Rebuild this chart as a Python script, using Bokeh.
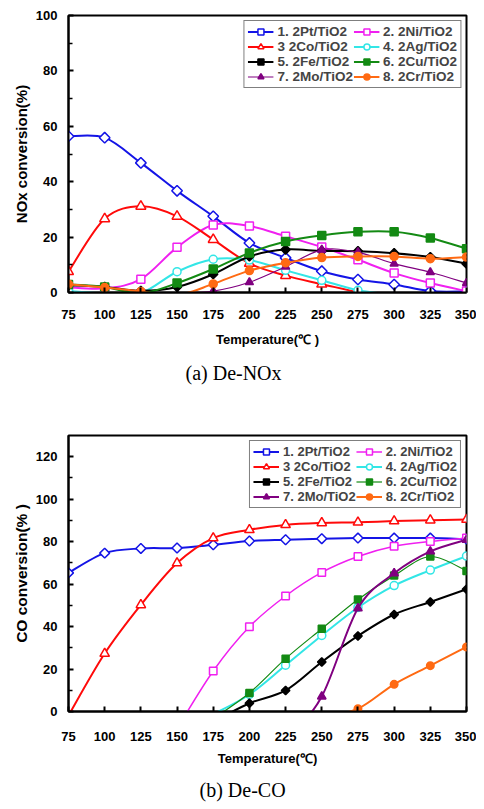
import math
from bokeh.plotting import figure
from bokeh.models import (Range1d, FixedTicker, Legend, LegendItem, Title,
                          ColumnDataSource)
from bokeh.layouts import column
from bokeh.embed import file_html
from bokeh.resources import INLINE

# ---------------- data ----------------
temps = [75, 100, 125, 150, 175, 200, 225, 250, 275, 300, 325, 350]
x_ticks = [75, 100, 125, 150, 175, 200, 225, 250, 275, 300, 325, 350]

labels = ["1. 2Pt/TiO2", "2. 2Ni/TiO2", "3 2Co/TiO2", "4. 2Ag/TiO2",
          "5. 2Fe/TiO2", "6. 2Cu/TiO2", "7. 2Mo/TiO2", "8. 2Cr/TiO2"]

# (a) De-NOx : NOx conversion (%)
nox_pt = [56.4, 55.9, 46.8, 36.7, 27.5, 17.9, 12.5, 7.7, 4.7, 2.9, 0.5, 0.4]
nox_ni = [1.9, 1.5, 4.8, 16.3, 24.4, 24.0, 20.3, 16.4, 11.8, 7.0, 3.4, 0.5]
nox_co = [7.5, 26.6, 31.1, 27.5, 19.1, 10.5, 6.1, 3.0, 0.0, -4.0]
nox_ag = [0.5, -0.3, -0.2, 7.5, 12.0, 11.7, 8.0, 4.4, 0.8, -1.0, -4.0]
nox_fe = [2.6, 2.0, 0.6, 2.0, 6.6, 13.0, 15.5, 15.0, 14.9, 14.2, 12.8, 10.4]
nox_cu = [2.9, 2.0, -0.3, 3.4, 8.5, 14.3, 18.4, 20.6, 21.9, 21.9, 19.7, 15.8]
nox_mo = [-0.5, -0.5, -0.3, -0.2, 0.5, 3.7, 9.3, 15.4, 14.5, 10.4, 7.3, 3.4]
nox_cr = [3.0, 1.8, 0.4, -1.0, 3.1, 7.9, 10.7, 12.6, 13.0, 13.0, 12.2, 12.8]

# (b) De-CO : CO conversion (%)
co_pt_t = [75, 100, 125, 150, 175, 200, 225, 250, 275, 300, 325, 350]
co_pt = [65.3, 74.6, 76.8, 77.0, 78.5, 80.3, 80.9, 81.4, 81.7, 81.7, 81.7, 81.2]
co_co_t = [75, 100, 125, 150, 175, 200, 225, 250, 275, 300, 325, 350]
co_co = [-1.9, 27.3, 50.2, 69.9, 81.7, 85.6, 87.9, 88.8, 89.1, 89.7, 90.1, 90.4]
co_ni_t = [150, 175, 200, 225, 250, 275, 300, 325, 350]
co_ni = [-8.0, 19.1, 39.9, 54.4, 65.5, 73.0, 77.8, 80.1, 81.7]
co_ag_t = [175, 200, 225, 250, 275, 300, 325, 350]
co_ag = [-1.3, 8.0, 21.8, 35.8, 49.0, 59.3, 66.6, 73.2]
co_fe_t = [175, 200, 225, 250, 275, 300, 325, 350]
co_fe = [-4.9, 3.9, 9.9, 23.3, 35.6, 45.7, 51.6, 57.6]
co_cu_t = [175, 200, 225, 250, 275, 300, 325, 350]
co_cu = [-3.4, 8.7, 24.9, 39.0, 52.8, 64.0, 73.0, 66.2]
co_mo_t = [225, 250, 275, 300, 325, 350]
co_mo = [-15.0, 7.1, 48.6, 65.1, 75.4, 80.9]
co_cr_t = [250, 275, 300, 325, 350]
co_cr = [-2.9, 1.3, 12.8, 21.6, 30.4]

# ---------------- styles ----------------
BLUE, MAGENTA, RED, CYAN = "#1414E6", "#F020F0", "#FF0A0A", "#33E6E6"
BLACK, GREEN, PURPLE, ORANGE = "#000000", "#138A13", "#800080", "#FF6A13"
D45 = math.pi / 4

style_a = [
    dict(color=BLUE, marker="square", angle=D45, fill="white", size=7.5, lw=2),
    dict(color=MAGENTA, marker="square", angle=0, fill="white", size=8, lw=2),
    dict(color=RED, marker="triangle", angle=0, fill="white", size=10, lw=2),
    dict(color=CYAN, marker="circle", angle=0, fill="white", size=8, lw=2),
    dict(color=BLACK, marker="square", angle=D45, fill=BLACK, size=6.5, lw=2),
    dict(color=GREEN, marker="square", angle=0, fill=GREEN, size=8, lw=2),
    dict(color=PURPLE, marker="triangle", angle=0, fill=PURPLE, size=8, lw=1.2),
    dict(color=ORANGE, marker="circle", angle=0, fill=ORANGE, size=8, lw=2),
]
style_b = [
    dict(color=BLUE, marker="square", angle=D45, fill="white", size=7, lw=2),
    dict(color=MAGENTA, marker="square", angle=0, fill="white", size=7.5, lw=1.5),
    dict(color=RED, marker="triangle", angle=0, fill="white", size=9.5, lw=2),
    dict(color=CYAN, marker="circle", angle=0, fill="white", size=8, lw=2),
    dict(color=BLACK, marker="square", angle=D45, fill=BLACK, size=6, lw=2),
    dict(color=GREEN, marker="square", angle=0, fill=GREEN, size=7, lw=1.2),
    dict(color=PURPLE, marker="triangle", angle=0, fill=PURPLE, size=8.5, lw=2),
    dict(color=ORANGE, marker="circle", angle=0, fill=ORANGE, size=7.5, lw=2),
]

SANS = "Liberation Sans"
SERIF = "Liberation Serif"


def smooth_segments(xs, ys):
    """Bezier control points (Excel-like smoothed line) through the data points."""
    n = len(xs)
    d = dict(x0=[], y0=[], x1=[], y1=[], cx0=[], cy0=[], cx1=[], cy1=[])
    for i in range(n - 1):
        a = max(i - 1, 0)
        b = min(i + 2, n - 1)
        d["x0"].append(xs[i]); d["y0"].append(ys[i])
        d["x1"].append(xs[i + 1]); d["y1"].append(ys[i + 1])
        d["cx0"].append(xs[i] + (xs[i + 1] - xs[a]) / 6.0)
        d["cy0"].append(ys[i] + (ys[i + 1] - ys[a]) / 6.0)
        d["cx1"].append(xs[i + 1] - (xs[b] - xs[i]) / 6.0)
        d["cy1"].append(ys[i + 1] - (ys[b] - ys[i]) / 6.0)
    return d


def draw_series(p, xs, ys, st):
    src = ColumnDataSource(smooth_segments(xs, ys))
    r_line = p.bezier(x0="x0", y0="y0", x1="x1", y1="y1", cx0="cx0", cy0="cy0",
                      cx1="cx1", cy1="cy1", source=src,
                      line_color=st["color"], line_width=st["lw"])
    px = [x for x, y in zip(xs, ys) if y >= 0]
    py = [y for x, y in zip(xs, ys) if y >= 0]
    r_pts = p.scatter(px, py, marker=st["marker"], size=st["size"], angle=st["angle"],
                      fill_color=st["fill"], line_color=st["color"], line_width=1.5)
    return [r_line, r_pts]


def make_chart(width, height, borders, ymax, y_major, y_minor, ylabel,
               xlabel, series, styles, caption, cap_offset, cap_standoff,
               legend_font, x_lab_standoff, x_title_standoff, y_lab_font):
    left, right, top, bottom = borders
    p = figure(width=width, height=height,
               x_range=Range1d(x_ticks[0], x_ticks[-1]), y_range=Range1d(0, ymax),
               output_backend="svg", toolbar_location=None,
               min_border_left=left, min_border_right=right,
               min_border_top=top, min_border_bottom=bottom)
    p.outline_line_color = "black"
    p.outline_line_width = 2
    p.outline_line_alpha = 1
    p.background_fill_color = "white"
    p.border_fill_color = "white"
    p.grid.visible = False

    xa = p.xaxis[0]
    xa.ticker = FixedTicker(ticks=x_ticks)
    ya = p.yaxis[0]
    ya.ticker = FixedTicker(ticks=y_major, minor_ticks=y_minor)
    for ax in (xa, ya):
        ax.axis_line_color = "black"
        ax.axis_line_width = 2
        ax.major_tick_in = 5
        ax.major_tick_out = 0
        ax.major_tick_line_width = 2
        ax.major_tick_line_color = "black"
        ax.minor_tick_in = 4
        ax.minor_tick_out = 0
        ax.minor_tick_line_width = 1.5
        ax.minor_tick_line_color = "black"
        ax.major_label_text_font = SANS
        ax.major_label_text_font_style = "bold"
        ax.major_label_text_font_size = "13px"
        ax.major_label_text_color = "black"
        ax.axis_label_text_font = SANS
        ax.axis_label_text_font_style = "bold"
        ax.axis_label_text_color = "black"
    xa.minor_tick_line_color = None
    xa.major_label_standoff = x_lab_standoff
    xa.axis_label = xlabel
    xa.axis_label_standoff = x_title_standoff
    xa.axis_label_text_font_size = "13px"
    ya.major_label_standoff = 11
    ya.axis_label = ylabel
    ya.axis_label_standoff = 3
    ya.axis_label_text_font_size = y_lab_font

    rends = {}
    for i, ((xs, ys), st) in enumerate(zip(series, styles)):
        rends[i] = draw_series(p, xs, ys, st)
    order = [0, 2, 4, 6, 1, 3, 5, 7]
    items = [LegendItem(label=labels[i], renderers=rends[i]) for i in order]
    leg = Legend(items=items, location="top_right", orientation="vertical", nrows=4,
                 margin=5, padding=3, spacing=0, label_height=15,
                 glyph_height=15, glyph_width=26, label_standoff=4,
                 label_text_font=SANS, label_text_font_style="bold",
                 label_text_font_size=legend_font,
                 border_line_color="black", border_line_width=1.5,
                 background_fill_color="white", background_fill_alpha=1)
    p.add_layout(leg)

    p.add_layout(Title(text=caption, align="left", offset=cap_offset,
                       standoff=cap_standoff, text_font=SERIF,
                       text_font_size="20px", text_font_style="normal",
                       text_color="black"), "below")
    return p


series_a = [(temps[:len(v)], v) for v in
            [nox_pt, nox_ni, nox_co, nox_ag, nox_fe, nox_cu, nox_mo, nox_cr]]
series_b = [(co_pt_t, co_pt), (co_ni_t, co_ni), (co_co_t, co_co), (co_ag_t, co_ag),
            (co_fe_t, co_fe), (co_cu_t, co_cu), (co_mo_t, co_mo), (co_cr_t, co_cr)]

p1 = make_chart(476, 403, (68, 10, 15, 111), 100,
                [0, 20, 40, 60, 80, 100], [10, 30, 50, 70, 90],
                "NOx conversion(%)", "Temperature(\u2103 )", series_a, style_a,
                "(a)  De-NOx", 117, 20, "13.5px", 17, 10, "15px")
p2 = make_chart(476, 405, (66, 10, 32, 97), 130,
                [0, 20, 40, 60, 80, 100, 120], [10, 30, 50, 70, 90, 110],
                "CO conversion(% )", "Temperature(\u2103)", series_b, style_b,
                "(b)  De-CO", 131, 16, "13px", 20, 7, "15.5px")

page = column(p1, p2, spacing=0)
open("out.html", "w").write(file_html(page, INLINE))
